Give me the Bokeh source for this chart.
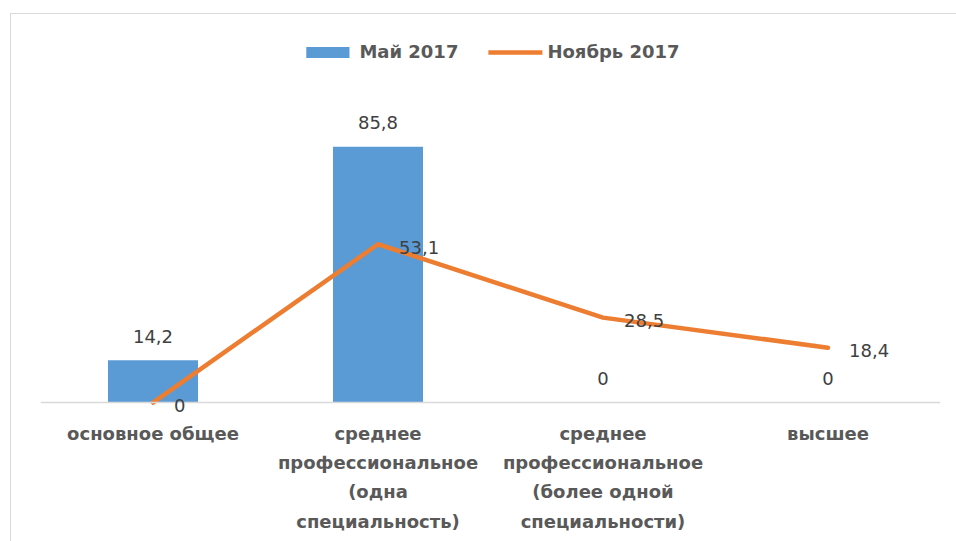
from bokeh.plotting import figure
from bokeh.models import ColumnDataSource, LabelSet, Legend, LegendItem, Span, FactorRange, Range1d
from bokeh.core.properties import value
from bokeh.embed import file_html
from bokeh.resources import INLINE

categories = ["основное общее",
              "среднее\nпрофессиональное\n(одна\nспециальность)",
              "среднее\nпрофессиональное\n(более одной\nспециальности)",
              "высшее"]
may_2017 = [14.2, 85.8, 0, 0]
nov_2017 = [0, 53.1, 28.5, 18.4]
series_names = ["Май 2017", "Ноябрь 2017"]

def fmt(v):
    return ("%g" % v).replace(".", ",")

src = ColumnDataSource(dict(
    cat=categories, may=may_2017, nov=nov_2017,
    may_lbl=[fmt(v) for v in may_2017],
    nov_lbl=[fmt(v) for v in nov_2017],
))

FONT = "DejaVu Sans"
BLUE = "#5B9BD5"
ORANGE = "#ED7D31"

p = figure(width=946, height=528, x_range=FactorRange(*categories),
           y_range=Range1d(-4, 124.8), output_backend="svg",
           toolbar_location=None, min_border_left=29, min_border_right=17,
           min_border_top=16, min_border_bottom=128)
p.margin = (13, 0, 0, 10)
p.styles = {"border-top": "1px solid #D9D9D9", "border-left": "1px solid #D9D9D9"}
p.outline_line_color = None
p.xgrid.visible = False
p.ygrid.visible = False
p.yaxis.visible = False
p.background_fill_color = "white"
p.border_fill_color = "white"

bars = p.vbar(x="cat", top="may", width=0.4, source=src, fill_color=BLUE, line_color=None)
line = p.line(x="cat", y="nov", source=src, color=ORANGE, line_width=4.5,
              line_cap="round", line_join="round")

p.add_layout(Span(location=0, dimension="width", line_color="#D9D9D9", line_width=1.5))

bar_labels = LabelSet(x="cat", y="may", text="may_lbl", source=src,
                      text_align="center", text_baseline="middle", y_offset=24,
                      text_font=value(FONT), text_font_size="18px", text_color="#404040")
line_labels = LabelSet(x="cat", y="nov", text="nov_lbl", source=src,
                       text_align="left", text_baseline="middle", x_offset=21, y_offset=-3,
                       text_font=value(FONT), text_font_size="18px", text_color="#404040")
p.add_layout(bar_labels)
p.add_layout(line_labels)

ax = p.xaxis[0]
ax.axis_line_color = None
ax.major_tick_line_color = None
ax.minor_tick_line_color = None
ax.major_label_text_font = FONT
ax.major_label_text_font_style = "bold"
ax.major_label_text_font_size = "18px"
ax.major_label_text_color = "#595959"
ax.major_label_text_line_height = 1.4
ax.major_label_standoff = 2
ax.major_label_orientation = "horizontal"

legend = Legend(items=[LegendItem(label=series_names[0], renderers=[bars]),
                       LegendItem(label=series_names[1], renderers=[line])],
                orientation="horizontal", location="top_center",
                glyph_width=54, glyph_height=14, label_standoff=5, spacing=30,
                padding=14, margin=11, border_line_color=None,
                background_fill_alpha=0,
                label_text_font=FONT, label_text_font_style="bold",
                label_text_font_size="18px", label_text_color="#595959")
p.add_layout(legend)

open("out.html", "w").write(file_html(p, INLINE))
